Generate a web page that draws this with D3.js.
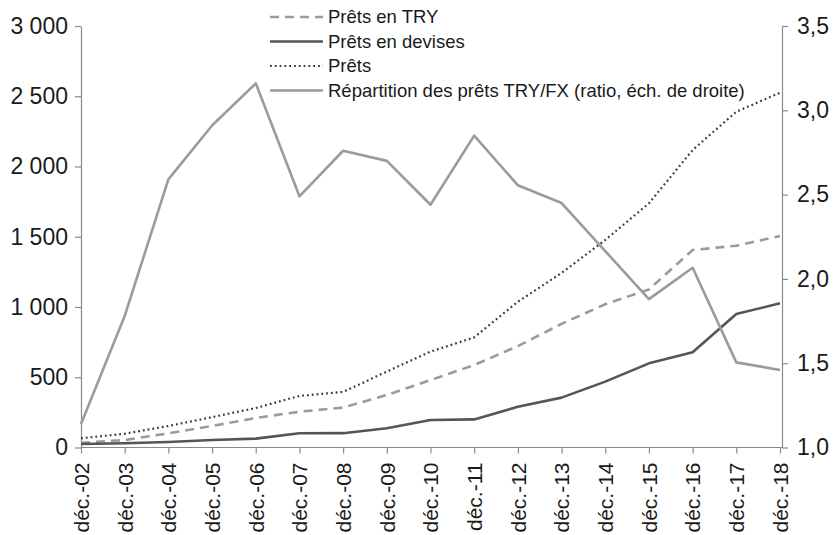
<!DOCTYPE html>
<html>
<head>
<meta charset="utf-8">
<script src="https://cdn.jsdelivr.net/npm/d3@7"></script>
<style>
body{margin:0;background:#fff}
svg{display:block;font-family:"Liberation Sans",Arial,sans-serif}
</style>
</head>
<body>
<svg></svg>
<script>
let years=['déc.-02','déc.-03','déc.-04','déc.-05','déc.-06','déc.-07','déc.-08','déc.-09','déc.-10','déc.-11','déc.-12','déc.-13','déc.-14','déc.-15','déc.-16','déc.-17','déc.-18']
let pretsTry=[34,53,101,153,210,255,284,374,480,587,722,880,1020,1125,1406,1436,1505]
let pretsDevises=[25,30,39,53,63,101,102,137,196,200,290,355,469,599,678,950,1026]
let prets=[66,98,153,216,281,367,396,540,682,784,1038,1242,1477,1738,2117,2390,2525]
let ratio=[1.14,1.78,2.59,2.91,3.16,2.49,2.76,2.70,2.44,2.85,2.555,2.45,2.165,1.88,2.066,1.505,1.46]

let leftTicks=[0,500,1000,1500,2000,2500,3000]
let rightTicks=[1.0,1.5,2.0,2.5,3.0,3.5]
let legendLabels=['Prêts en TRY','Prêts en devises','Prêts','Répartition des prêts TRY/FX (ratio, éch. de droite)']

let width=834
let height=535
let padLeft=81
let padRight=780
let padTop=26
let padBottom=447.5
let axisColor='#8a8a8a'

let locale=d3.formatLocale({decimal:',',thousands:'\u00a0',grouping:[3],currency:['','']})
let fmtLeft=locale.format(',')
let fmtRight=locale.format('.1f')

let svg=d3.select('svg').attr('width',width).attr('height',height)

let xScale=d3.scalePoint().domain(years).range([padLeft,padRight])
let yScale=d3.scaleLinear().domain([0,3000]).range([padBottom,padTop])
let y2Scale=d3.scaleLinear().domain([1,3.5]).range([padBottom,padTop])

let series=[
    {values:pretsTry,scale:yScale,color:'#9b9b9b',width:2.6,dash:'9,6'},
    {values:pretsDevises,scale:yScale,color:'#555555',width:2.6,dash:null},
    {values:prets,scale:yScale,color:'#3a3a3a',width:2.2,dash:'1.8,3'},
    {values:ratio,scale:y2Scale,color:'#9b9b9b',width:2.6,dash:null}
]

// axes
let styleAxis=(g)=>{
    g.selectAll('.domain').attr('stroke',axisColor).attr('stroke-width',1.2)
    g.selectAll('.tick line').attr('stroke',axisColor).attr('stroke-width',1.2)
    g.selectAll('.tick text').attr('fill','#1a1a1a').attr('font-family','"Liberation Sans",Arial,sans-serif')
}

let yAxis=svg.append('g')
    .attr('transform','translate('+padLeft+',0)')
    .call(d3.axisLeft(yScale).tickValues(leftTicks).tickFormat(fmtLeft).tickSize(6).tickSizeOuter(0).tickPadding(7))
yAxis.selectAll('.tick text').attr('font-size',23)
styleAxis(yAxis)

let y2Axis=svg.append('g')
    .attr('transform','translate(782,0)')
    .call(d3.axisRight(y2Scale).tickValues(rightTicks).tickFormat(fmtRight).tickSize(6).tickSizeOuter(0).tickPadding(9))
y2Axis.selectAll('.tick text').attr('font-size',23)
styleAxis(y2Axis)

let xAxis=svg.append('g')
    .attr('transform','translate(0,'+padBottom+')')
    .call(d3.axisBottom(xScale).tickSize(6).tickSizeOuter(0))
xAxis.select('.domain').remove()
xAxis.append('line').attr('x1',padLeft).attr('x2',782).attr('stroke',axisColor).attr('stroke-width',1.2)
xAxis.selectAll('.tick text')
    .attr('font-size',21)
    .attr('transform','rotate(-90)')
    .attr('text-anchor','end')
    .attr('x',-15)
    .attr('y',0)
    .attr('dy','0.35em')
styleAxis(xAxis)

// lines
series.forEach((s)=>{
    let line=d3.line()
        .x((d,i)=>xScale(years[i]))
        .y((d)=>s.scale(d))
    svg.append('path')
        .datum(s.values)
        .attr('d',line)
        .attr('fill','none')
        .attr('stroke',s.color)
        .attr('stroke-width',s.width)
        .attr('stroke-dasharray',s.dash)
        .attr('stroke-linejoin','round')
})

// legend
let legend=svg.append('g')
series.forEach((s,i)=>{
    let ly=17+i*24.5
    legend.append('line')
        .attr('x1',270).attr('x2',323)
        .attr('y1',ly).attr('y2',ly)
        .attr('stroke',s.color)
        .attr('stroke-width',s.width)
        .attr('stroke-dasharray',s.dash)
    legend.append('text')
        .attr('x',328)
        .attr('y',ly)
        .attr('dy','0.35em')
        .attr('font-size',18.5)
        .attr('fill','#1a1a1a')
        .text(legendLabels[i])
})
</script>
</body>
</html>
